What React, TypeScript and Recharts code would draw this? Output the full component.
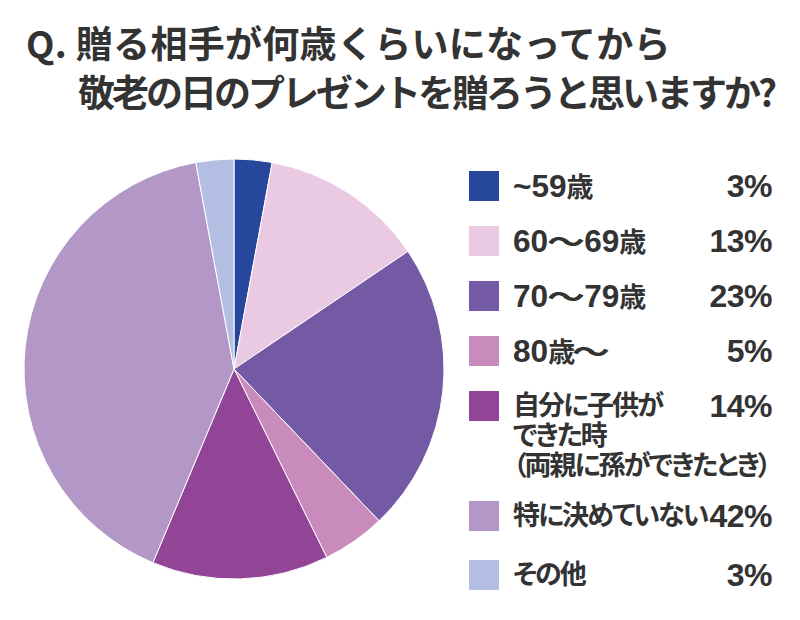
import React from 'react';
import { PieChart, Pie, Cell, Legend } from 'recharts';

const titleLines = ['Q. 贈る相手が何歳くらいになってから', '敬老の日のプレゼントを贈ろうと思いますか?'];

const categories = [
  '~59歳',
  '60～69歳',
  '70～79歳',
  '80歳～',
  '自分に子供が\nできた時\n（両親に孫ができたとき）',
  '特に決めていない',
  'その他',
];

const shares = [3, 13, 23, 5, 14, 42, 3];

const colors = ['#26479c', '#eac9e2', '#7459a5', '#c98bbb', '#924496', '#b397c7', '#b4bee2'];

const data = categories.map((name, i) => ({ name, value: shares[i] }));

const FONT = '"Noto Sans CJK JP", "Noto Sans", sans-serif';
const LATIN = '"Liberation Sans", Arial, sans-serif';

// latin digits look bigger than the kana in the original, so give them their own face
const runs = (text: string) =>
  text.split(/([0-9~%?.]+|～)/).filter(Boolean).map((part, i) => {
    if (part === '～') {
      return (
        <span
          key={i}
          style={{
            display: 'inline-block',
            width: 36,
            textAlign: 'center',
            letterSpacing: 0,
            transform: 'scaleX(1.4)',
          }}
        >
          {part}
        </span>
      );
    }
    if (/^[0-9~%?.]+$/.test(part)) {
      return (
        <span key={i} style={{ fontSize: '1.17em', letterSpacing: 0 }}>{part}</span>
      );
    }
    return <span key={i}>{part}</span>;
  });

const renderLegend = () => (
  <div style={{ fontFamily: `${LATIN.split(',')[0]}, ${FONT}`, fontWeight: 700, color: '#333', width: 302 }}>
    {data.map((d, i) => {
      const lines = d.name.split('\n');
      return (
        <div
          key={d.name}
          style={{
            position: 'relative',
            height: 55 + (lines.length - 1) * 27.5 + (i === 5 ? 4 : 0),
          }}
        >
          <div style={{ position: 'absolute', left: 0, top: 0, width: 30, height: 30, background: colors[i] }} />
          <div
            style={{
              position: 'absolute',
              left: 44,
              top: 0,
              fontSize: 27,
              lineHeight: '30px',
              letterSpacing: -2,
              fontFeatureSettings: '"palt"',
              whiteSpace: 'nowrap',
            }}
          >
            {lines.map((l) => (
              <div key={l} style={{ height: 30 }}>{runs(l)}</div>
            ))}
          </div>
          <div
            style={{
              position: 'absolute',
              right: -1,
              top: 0,
              fontFamily: LATIN,
              fontSize: 32,
              lineHeight: '30px',
              letterSpacing: -0.5,
            }}
          >
            {d.value}%
          </div>
        </div>
      );
    })}
  </div>
);

export default function App() {
  return (
    <div style={{ position: 'absolute', left: 0, top: 0, width: 800, height: 620, background: '#fff' }}>
      <div
        style={{
          position: 'absolute',
          left: 26,
          top: 18,
          fontFamily: FONT,
          fontWeight: 700,
          color: '#333',
          fontSize: 37,
          lineHeight: '49px',
          whiteSpace: 'nowrap',
        }}
      >
        <div style={{ letterSpacing: 0.3 }}>{titleLines[0]}</div>
        <div style={{ marginLeft: 52, letterSpacing: -3 }}>{titleLines[1]}</div>
      </div>
      <PieChart
        width={800}
        height={620}
        margin={{ top: 0, right: 0, bottom: 0, left: 0 }}
        style={{ position: 'absolute', left: 0, top: 0 }}
      >
        <Pie
          data={data}
          dataKey="value"
          nameKey="name"
          cx={234}
          cy={369}
          outerRadius={210}
          startAngle={90}
          endAngle={-270}
          stroke="#fff"
          strokeWidth={1}
          isAnimationActive={false}
        >
          {data.map((d, i) => (
            <Cell key={d.name} fill={colors[i]} />
          ))}
        </Pie>
        <Legend
          content={renderLegend}
          layout="vertical"
          wrapperStyle={{ position: 'absolute', left: 469, top: 171, width: 302 }}
        />
      </PieChart>
    </div>
  );
}
